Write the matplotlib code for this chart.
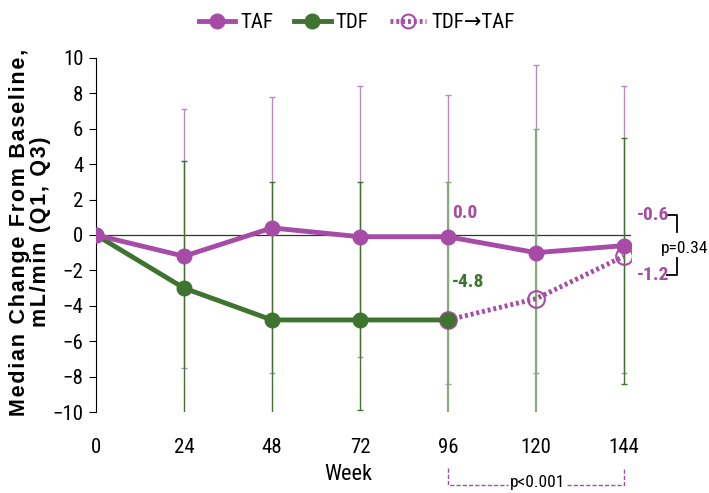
import matplotlib
matplotlib.use('Agg')
import matplotlib.pyplot as plt
from matplotlib import font_manager
from matplotlib.lines import Line2D
import numpy as np

#%% Data
weeks = [0, 24, 48, 72, 96, 120, 144]
taf = [0.0, -1.2, 0.4, -0.1, -0.1, -1.0, -0.6]
taf_q1 = [0.0, -7.5, -7.8, -6.9, -8.4, -7.8, -7.8]
taf_q3 = [0.0, 7.1, 7.8, 8.4, 7.9, 9.6, 8.4]

tdf_weeks = [0, 24, 48, 72, 96]
tdf = [0.0, -3.0, -4.8, -4.8, -4.8]
tdf_q1 = [0.0, -11.0, -11.0, -9.9, -11.0]
tdf_q3 = [0.0, 4.2, 3.0, 3.0, 3.0]

sw_weeks = [96, 120, 144]
sw = [-4.8, -3.6, -1.2]
sw_q1 = [-11.0, -11.0, -8.4]
sw_q3 = [3.0, 6.0, 5.5]

#%% Style
purple = '#A64CA6'
purple_light = '#B98AC3'
green = '#3F7430'
green_light = '#86AA78'

installed = set(f.name for f in font_manager.fontManager.ttflist)
narrow_font = 'Liberation Sans'
for cand in ['Liberation Sans Narrow', 'Arial Narrow', 'Roboto Condensed', 'Open Sans Condensed']:
    if cand in installed:
        narrow_font = cand
        break
plt.rcParams['font.family'] = [narrow_font, 'DejaVu Sans']
fs = 15 if 'Narrow' in narrow_font or 'Condensed' in narrow_font else 13.5

fig = plt.figure(figsize=(7.09, 4.93), dpi=100)
ax = fig.add_axes([0.1354, 0.1643, 0.755, 0.7181])

#%% Error bars (purple first, green drawn on top)
taf_err = [np.array(taf) - np.array(taf_q1), np.array(taf_q3) - np.array(taf)]
ax.errorbar(weeks[1:], taf[1:], yerr=[taf_err[0][1:], taf_err[1][1:]], fmt='none',
            ecolor=purple_light, elinewidth=1.0, capsize=2.5, capthick=1.0, zorder=2)
tdf_err = [np.array(tdf) - np.array(tdf_q1), np.array(tdf_q3) - np.array(tdf)]
ax.errorbar(tdf_weeks[1:4], tdf[1:4], yerr=[tdf_err[0][1:4], tdf_err[1][1:4]], fmt='none',
            ecolor=green, elinewidth=1.0, capsize=2.5, capthick=1.0, zorder=3)
sw_err = [np.array(sw) - np.array(sw_q1), np.array(sw_q3) - np.array(sw)]
ax.errorbar(sw_weeks[:2], sw[:2], yerr=[sw_err[0][:2], sw_err[1][:2]], fmt='none',
            ecolor=green_light, elinewidth=1.5, capsize=2.5, capthick=1.0, zorder=3)
ax.errorbar(sw_weeks[2:], sw[2:], yerr=[sw_err[0][2:], sw_err[1][2:]], fmt='none',
            ecolor=green, elinewidth=1.0, capsize=2.5, capthick=1.0, zorder=3)

ax.axhline(0, color='#333333', lw=0.9, zorder=1)

#%% Lines
ax.plot(sw_weeks, sw, color=purple, lw=3.5, ls=(0, (0.6, 0.6)), marker='o', ms=12,
        mfc='none', mec=purple, mew=1.5, zorder=4, label='TDF\u2192TAF')
ax.plot(tdf_weeks, tdf, color=green, lw=3.5, marker='o', ms=10.5, zorder=5, label='TDF')
ax.plot(weeks, taf, color=purple, lw=3.5, marker='o', ms=10.5, zorder=6, label='TAF')

#%% Axes
ax.set_xlim(0, 146)
ax.set_ylim(-10, 10)
ax.set_yticks(np.arange(-10, 11, 2))
ax.set_xticks(weeks)
ax.tick_params(axis='y', direction='out', length=5, width=0.8, labelsize=fs, pad=4)
ax.tick_params(axis='x', length=0, labelsize=fs, pad=19)
for s in ['top', 'right', 'bottom']:
    ax.spines[s].set_visible(False)
ax.spines['left'].set_linewidth(0.8)
ax.set_xlabel('Week', fontsize=fs + 1)
ax.xaxis.set_label_coords(0.471, -0.148)
for lab in ax.get_xticklabels() + ax.get_yticklabels():
    lab.set_clip_on(False)

# letter-spaced bold y label
hs = '\u200a'
line1 = hs.join('Median Change From Baseline,')
line2 = hs.join('mL/min (Q1, Q3)')
fig.text(0.043, 1 - 232 / 493, line1 + '\n' + line2, rotation=90, ha='center', va='center',
         fontsize=15.5, fontweight='bold', family=['Liberation Sans', 'DejaVu Sans'],
         linespacing=1.0, multialignment='center')

#%% Legend
handles = [Line2D([], [], color=purple, lw=3.5, marker='o', ms=10.5),
           Line2D([], [], color=green, lw=3.5, marker='o', ms=10.5),
           Line2D([], [], color=purple, lw=3.5, ls=(0, (0.6, 0.6)), marker='o', ms=10,
                  mfc='none', mec=purple, mew=1.5)]
fig.legend(handles, ['TAF', 'TDF', 'TDF\u2192TAF'], loc='upper center',
           bbox_to_anchor=(0.503, 1.012), ncol=3, frameon=False, fontsize=fs,
           handlelength=1.75, columnspacing=1.0, handletextpad=0.25)

#%% Annotations
ax.text(97.2, 1.25, '0.0', color=purple, fontsize=fs - 1, fontweight='bold', va='center', ha='left')
ax.text(97.2, -2.65, '-4.8', color=green, fontsize=fs - 1, fontweight='bold', va='center', ha='left')
ax.text(147.6, 1.13, '-0.6', color=purple, fontsize=fs - 1, fontweight='bold', va='center',
        ha='left', clip_on=False)
ax.text(147.6, -2.26, '-1.2', color=purple, fontsize=fs - 1, fontweight='bold', va='center',
        ha='left', clip_on=False)

# p=0.34 bracket
bx0, bx1 = 155.7, 158.4
ax.plot([bx0, bx1, bx1], [1.13, 1.13, 0.17], color='black', lw=1.3, clip_on=False)
ax.plot([bx0, bx1, bx1], [-2.26, -2.26, -1.3], color='black', lw=1.3, clip_on=False)
fig.text(0.999, 1 - 248 / 493, 'p=0.34', fontsize=fs - 2.5, va='center', ha='right')

# p<0.001 bracket below the axis
tr = ax.get_xaxis_transform()
ax.plot([96, 96, 112.5], [-0.158, -0.205, -0.205], color=purple, lw=1.0, ls=(0, (3, 1.5)),
        transform=tr, clip_on=False)
ax.plot([128.5, 144, 144], [-0.205, -0.205, -0.158], color=purple, lw=1.0, ls=(0, (3, 1.5)),
        transform=tr, clip_on=False)
ax.text(120.3, -0.2, 'p<0.001', fontsize=fs - 2.5, va='center', ha='center', transform=tr)

fig.savefig('out.png', dpi=100)
